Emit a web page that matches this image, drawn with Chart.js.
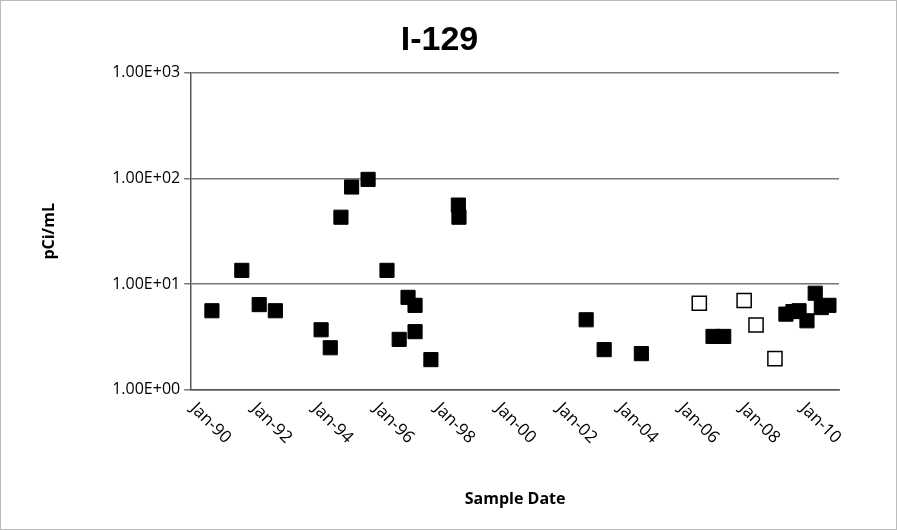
<!DOCTYPE html>
<html>
<head>
<meta charset="utf-8">
<script src="https://cdn.jsdelivr.net/npm/chart.js@4/dist/chart.umd.min.js"></script>
<style>
  html, body { margin: 0; padding: 0; background: #fff; }
  #wrap { position: absolute; left: 0; top: 0; width: 895px; height: 528px; border: 1px solid #bbb; }
</style>
</head>
<body>
<div id="wrap"><canvas id="chart" width="895" height="528"></canvas></div>
<script>
// sample dates as decimal years, values in pCi/mL
const detectedDates = [1990.52, 1991.5, 1992.07, 1992.6, 1994.1, 1994.4, 1994.75, 1995.1, 1995.64,
  1996.26, 1996.66, 1996.95, 1997.18, 1997.18, 1997.7, 1998.6, 1998.62,
  2002.79, 2003.38, 2004.6, 2006.95, 2007.3, 2009.34, 2009.57, 2009.77, 2010.03, 2010.3, 2010.5, 2010.75];
const detectedValues = [5.6, 13.5, 6.4, 5.6, 3.7, 2.5, 43, 83, 98,
  13.5, 3.0, 7.5, 6.3, 3.55, 1.93, 56, 43,
  4.6, 2.4, 2.2, 3.2, 3.2, 5.2, 5.5, 5.6, 4.5, 8.2, 6.0, 6.3];
const nondetectDates = [2006.5, 2007.97, 2008.36, 2008.98];
const nondetectValues = [6.6, 7.0, 4.1, 1.97];
const yTicks = [1, 10, 100, 1000];
const xTicks = [1990, 1992, 1994, 1996, 1998, 2000, 2002, 2004, 2006, 2008, 2010];

const toPoints = (xs, ys) => xs.map((x, i) => ({ x: x, y: ys[i] }));
const dateLabel = v => "Jan-" + String(v % 100).padStart(2, "0");

// Excel-style labels: rotated clockwise, starting at the tick
const slantLabels = {
  id: "slantLabels",
  afterDraw(chart) {
    const ctx = chart.ctx, sx = chart.scales.x, top = chart.chartArea.bottom;
    ctx.save();
    ctx.font = "17px 'Open Sans'";
    ctx.fillStyle = "#000";
    ctx.textAlign = "left";
    ctx.textBaseline = "middle";
    sx.ticks.forEach(t => {
      ctx.save();
      ctx.translate(sx.getPixelForValue(t.value) - 3, top + 16);
      ctx.rotate(Math.PI / 4);
      ctx.fillText(dateLabel(t.value), 0, 0);
      ctx.restore();
    });
    ctx.restore();
  }
};

new Chart(document.getElementById("chart"), {
  type: "scatter",
  data: {
    datasets: [{
      data: toPoints(detectedDates, detectedValues),
      pointStyle: "rect",
      pointRadius: 10,
      backgroundColor: "#000",
      borderColor: "#000",
      borderWidth: 1
    }, {
      data: toPoints(nondetectDates, nondetectValues),
      pointStyle: "rect",
      pointRadius: 10,
      backgroundColor: "#fff",
      borderColor: "#000",
      borderWidth: 1.5
    }]
  },
  plugins: [slantLabels],
  options: {
    responsive: false,
    animation: false,
    layout: { padding: { left: 39, right: 57, top: 2, bottom: 20 } },
    plugins: {
      legend: { display: false },
      tooltip: { enabled: false },
      title: {
        display: true, text: "I-129", color: "#000",
        font: { family: "Liberation Sans", size: 34, weight: "bold" },
        padding: { top: 17, bottom: 12 }
      }
    },
    scales: {
      x: {
        type: "linear", min: 1989.84, max: 2011.08,
        afterBuildTicks: a => { a.ticks = xTicks.map(v => ({ value: v })); },
        grid: { display: false, drawTicks: true, tickLength: 7, color: "#000" },
        border: { color: "#555", width: 1.5 },
        ticks: { display: false },
        title: { display: true, text: "Sample Date", color: "#000", padding: { top: 93, bottom: 0 },
                 font: { family: "Open Sans", size: 16, weight: "bold" } }
      },
      y: {
        type: "logarithmic", min: 1, max: 1000,
        afterBuildTicks: a => { a.ticks = yTicks.map(v => ({ value: v })); },
        grid: { color: "#777", lineWidth: 1.5, tickLength: 7 },
        border: { color: "#555", width: 1.5 },
        ticks: {
          color: "#000", font: { family: "Open Sans", size: 16 }, padding: 4,
          callback: v => Number(v).toExponential(2).toUpperCase().replace(/E\+(\d)$/, "E+0$1")
        },
        title: { display: true, text: "pCi/mL", color: "#000", padding: { top: 0, bottom: 49 },
                 font: { family: "Open Sans", size: 16, weight: "bold" } }
      }
    }
  }
});
</script>
</body>
</html>
